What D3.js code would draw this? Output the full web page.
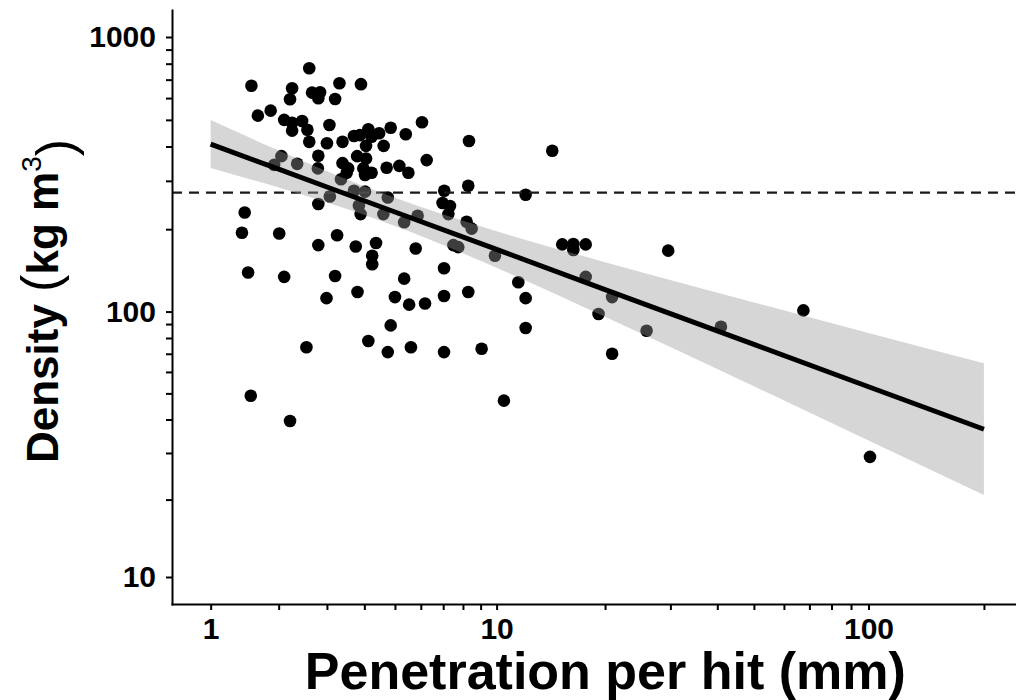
<!DOCTYPE html>
<html><head><meta charset="utf-8">
<script src="https://cdn.jsdelivr.net/npm/d3@7"></script>
<style>body{margin:0;background:#fff} svg{display:block}</style>
</head><body>
<svg id="chart" width="1016" height="700"></svg>
<script>
// ---- data ----
const penetration = [
 2.60,1.55,2.25,3.31,3.90,2.66,2.84,2.80,2.21,3.20,
 1.86,1.65,2.10,2.25,2.45,2.25,2.56,3.06,6.05,2.60,
 3.00,3.39,3.70,3.87,4.12,4.22,4.46,4.85,5.40,4.05,
 4.61,8.33,2.80,2.05,2.35,1.92,2.79,3.79,4.05,3.39,
 3.54,3.50,3.97,4.02,4.22,4.71,5.16,5.50,6.25,3.35,
 8.29,7.05,3.07,3.70,4.02,4.75,2.80,6.97,7.33,7.25,
 3.84,3.89,4.60,5.34,5.87,1.45,1.41,2.01,3.25,8.20,
 8.48,2.80,3.75,4.36,4.24,4.24,5.79,7.50,7.75,1.50,
 2.10,3.20,5.34,7.04,3.80,2.99,5.00,5.53,6.18,7.04,
 8.29,4.85,4.12,2.54,4.75,5.60,7.04,
 1.54,2.21,14.33,12.08,9.89,15.27,16.38,16.38,17.71,29.6,
 17.71,11.52,12.08,20.9,19.2,25.9,12.08,9.06,20.9,10.49,40.9,67.5,100.9];
const density = [
 770,665,651,679,674,628,630,599,594,595,
 540,518,500,488,495,457,460,479,490,416,
 411,416,437,440,462,434,447,468,443,402,
 402,419,370,369,346,343,333,369,362,348,
 333,321,333,315,321,335,340,321,357,304,
 288,276,263,276,274,261,247,249,243,227,
 244,227,227,212,224,230,194,193,190,213,
 201,175,173,178,160,149,170,175,172,139,
 134,135,132,144,118,112,113,106,107,114,
 118,89,78,74,71,74,71,
 49,39.5,386,267,160,176,176.5,168,176,167,
 134,128,112,113,98,85,87,73,70,47,88,101,29];

// fitted line and confidence band
const fitX     = [1, 2, 3, 5, 10, 20, 50, 100, 200];
const fitY     = [408, 331, 285, 231, 168.7, 120.4, 75.8, 52.9, 36.8];
const fitUpper = [499.6, 386.5, 325.3, 260.1, 196.7, 151.6, 108.0, 83.5, 64.6];
const fitLower = [334, 283.5, 250, 205.3, 144.6, 95.7, 53.1, 33.4, 20.8];

const referenceDensity = 272;

const xLimits = [1, 200];
const yLimits = [10, 1000];
const xTickValues = [1,2,3,4,5,6,7,8,9,10,20,30,40,50,60,70,80,90,100,200];
const xTickLabels = [1, 10, 100];
const yTickValues = [10,20,30,40,50,60,70,80,90,100,200,300,400,500,600,700,800,900,1000];
const yTickLabels = [10, 100, 1000];

// ---- layout ----
const FONT = "'Liberation Sans', Arial, Helvetica, sans-serif";
const svg = d3.select("#chart");
const panel = {left: 172, right: 1022.6, top: 10, bottom: 604};

const t = v => Math.log10(1 + v);
function expanded(lim) {
  const a = t(lim[0]), b = t(lim[1]), d = (b - a) * 0.05;
  return [Math.pow(10, a - d) - 1, Math.pow(10, b + d) - 1];
}
const x = d3.scaleSymlog().constant(1).domain(expanded(xLimits)).range([panel.left, panel.right]);
const y = d3.scaleSymlog().constant(1).domain(expanded(yLimits)).range([panel.bottom, panel.top]);

// points
svg.append("g").selectAll("circle")
  .data(penetration.map((p, i) => [p, density[i]]))
  .join("circle")
  .attr("cx", d => x(d[0])).attr("cy", d => y(d[1]))
  .attr("r", 6.3).attr("fill", "#000");

// dashed reference line
svg.append("line")
  .attr("x1", panel.left).attr("x2", panel.right)
  .attr("y1", y(referenceDensity)).attr("y2", y(referenceDensity))
  .attr("stroke", "#1a1a1a").attr("stroke-width", 2.3)
  .attr("stroke-dasharray", "10,7");

// confidence ribbon
const band = fitX.map((v, i) => ({x: v, lo: fitLower[i], hi: fitUpper[i], f: fitY[i]}));
svg.append("path").datum(band)
  .attr("d", d3.area().x(d => x(d.x)).y0(d => y(d.lo)).y1(d => y(d.hi)).curve(d3.curveMonotoneX))
  .attr("fill", "#999999").attr("fill-opacity", 0.4);

// fitted line
svg.append("path").datum(band)
  .attr("d", d3.line().x(d => x(d.x)).y(d => y(d.f)))
  .attr("fill", "none").attr("stroke", "#000").attr("stroke-width", 5);

// axes
const xAxis = d3.axisBottom(x).tickValues(xTickValues).tickSize(6).tickSizeOuter(0).tickPadding(8)
  .tickFormat(d => xTickLabels.includes(d) ? d3.format("d")(d) : "");
const yAxis = d3.axisLeft(y).tickValues(yTickValues).tickSize(6).tickSizeOuter(0).tickPadding(10)
  .tickFormat(d => yTickLabels.includes(d) ? d3.format("d")(d) : "");

function styleAxis(g) {
  g.select(".domain").attr("stroke", "#000").attr("stroke-width", 2).attr("stroke-linecap", "square");
  g.selectAll(".tick line").attr("stroke", "#000").attr("stroke-width", 2);
  g.selectAll(".tick text").attr("fill", "#000").style("font-family", FONT)
    .style("font-size", "30px").style("font-weight", "bold");
}
svg.append("g").attr("transform", `translate(0,${panel.bottom})`).call(xAxis).call(styleAxis);
svg.append("g").attr("transform", `translate(${panel.left},0)`).call(yAxis).call(styleAxis);

// titles
svg.append("text")
  .attr("x", (panel.left + panel.right) / 2 + 8).attr("y", 689)
  .attr("text-anchor", "middle")
  .style("font-family", FONT).style("font-size", "52px").style("font-weight", "bold")
  .text("Penetration per hit (mm)");

const yt = svg.append("text")
  .attr("transform", `translate(58,${(panel.top + panel.bottom) / 2 - 6}) rotate(-90)`)
  .attr("text-anchor", "middle")
  .style("font-family", FONT).style("font-size", "44px").style("font-weight", "bold");
yt.append("tspan").text("Density ");
yt.append("tspan").text("(").style("font-size", "52px").style("font-weight", "normal");
yt.append("tspan").text("kg m");
yt.append("tspan").text("3").style("font-size", "28px").style("font-weight", "normal").attr("dy", "-0.62em");
yt.append("tspan").text(")").style("font-size", "52px").style("font-weight", "normal").attr("dy", "0.62em");
</script>
</body></html>
